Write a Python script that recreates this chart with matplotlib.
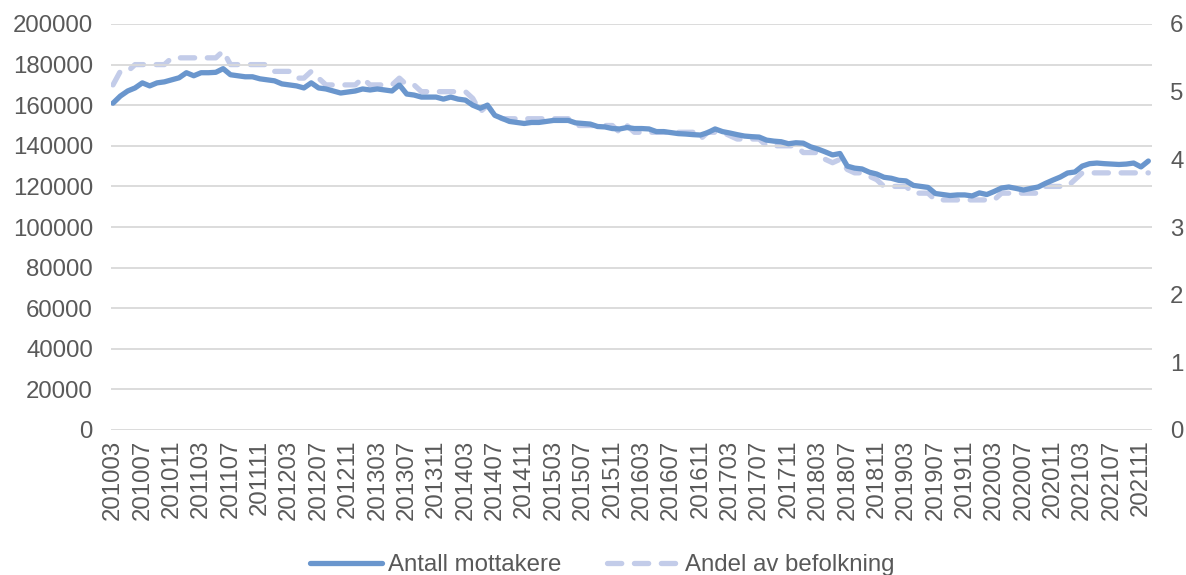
#!/usr/bin/env python3
# Antall mottakere og andel av befolkningen, månedlig 201003-202112
import numpy as np
import matplotlib
matplotlib.use('Agg')
import matplotlib.pyplot as plt

plt.rcParams['font.family'] = ['Liberation Sans', 'DejaVu Sans']

# monthly periods, 201003 .. 202112
months = [f"{y}{m:02d}" for y in range(2010, 2022) for m in range(1, 13)]
months = months[months.index("201003"):months.index("202112") + 1]

# Antall mottakere (left axis)
antall = [
    161000, 164500, 167000, 168500, 171000, 169500, 171000, 171500, 172500, 173500,
    176000, 174500, 176000, 176000, 176200, 178000, 175000, 174500, 174000, 174000,
    173000, 172500, 172000, 170500, 170000, 169500, 168500, 171000, 168500, 168000,
    167000, 166000, 166500, 167000, 168000, 167500, 168000, 167500, 167000, 170000,
    165500, 165000, 164000, 164000, 164000, 163000, 164000, 163000, 162500, 160000,
    158500, 160000, 155000, 153500, 152000, 151500, 151000, 151500, 151500, 152000,
    152500, 152500, 152500, 151300, 151000, 150700, 149500, 149300, 148500, 148300,
    149000, 148500, 148500, 148300, 147000, 147000, 146500, 146000, 145800, 145500,
    145300, 146500, 148300, 147000, 146300, 145500, 144800, 144500, 144300, 142800,
    142300, 142000, 141000, 141500, 141300, 139500, 138400, 137000, 135500, 136200,
    130000, 129000, 128600, 127000, 126100, 124500, 124000, 123000, 122700, 120500,
    120000, 119500, 116500, 116000, 115500, 115800, 115800, 115300, 116800, 116000,
    117500, 119200, 119700, 119000, 118200, 119000, 119700, 121500, 123100, 124600,
    126600, 127100, 130000, 131200, 131500, 131200, 131000, 130800, 131000, 131500,
    129600, 132500,
]

# Andel av befolkning, prosent (right axis)
andel = [
    5.1, 5.3, 5.3, 5.4, 5.4, 5.4, 5.4, 5.4, 5.5, 5.5,
    5.5, 5.5, 5.5, 5.5, 5.5, 5.6, 5.4, 5.4, 5.4, 5.4,
    5.4, 5.4, 5.3, 5.3, 5.3, 5.2, 5.2, 5.3, 5.2, 5.1,
    5.1, 5.1, 5.1, 5.1, 5.2, 5.1, 5.1, 5.1, 5.1, 5.2,
    5.1, 5.1, 5.0, 5.0, 5.0, 5.0, 5.0, 5.0, 5.0, 4.9,
    4.7, 4.8, 4.65, 4.6, 4.6, 4.6, 4.6, 4.6, 4.6, 4.6,
    4.6, 4.6, 4.6, 4.5, 4.5, 4.5, 4.5, 4.5, 4.5, 4.4,
    4.5, 4.4, 4.4, 4.4, 4.4, 4.4, 4.4, 4.4, 4.4, 4.4,
    4.3, 4.4, 4.4, 4.4, 4.35, 4.3, 4.3, 4.3, 4.3, 4.2,
    4.2, 4.2, 4.2, 4.2, 4.1, 4.1, 4.1, 4.0, 3.95, 4.0,
    3.85, 3.8, 3.8, 3.75, 3.7, 3.6, 3.6, 3.6, 3.6, 3.5,
    3.5, 3.5, 3.4, 3.4, 3.4, 3.4, 3.4, 3.4, 3.4, 3.4,
    3.4, 3.5, 3.5, 3.5, 3.5, 3.5, 3.5, 3.6, 3.6, 3.6,
    3.6, 3.7, 3.8, 3.8, 3.8, 3.8, 3.8, 3.8, 3.8, 3.8,
    3.8, 3.8,
]

left_ticks = list(range(0, 200001, 20000))
right_ticks = [0, 1, 2, 3, 4, 5, 6]

blue = '#6A96CD'
lilac = '#C3CCE9'
grey_txt = '#595959'
fs = 17.3

x = np.arange(len(months))

fig = plt.figure(figsize=(11.86, 5.75), dpi=100)
ax = fig.add_axes([111 / 1186, 1 - 430 / 575, (1152 - 111) / 1186, (430 - 24) / 575])
ax2 = ax.twinx()

l1, = ax.plot(x, antall, color=blue, lw=3.8, solid_capstyle='round',
              solid_joinstyle='round', label='Antall mottakere', zorder=3)
l2, = ax2.plot(x, andel, color=lilac, lw=3.8, dashes=(2.7, 2.4),
               dash_capstyle='round', dash_joinstyle='round',
               label='Andel av befolkning', zorder=2)

ax.set_zorder(ax2.get_zorder() + 1)
ax.patch.set_visible(False)

ax.set_ylim(0, 200000)
ax.set_yticks(left_ticks)
ax2.set_ylim(0, 6)
ax2.set_yticks(right_ticks)
ax.set_xlim(-0.27, len(months) - 0.5)

ax.set_xticks(x[::4])
ax.set_xticklabels(months[::4], rotation=90)

ax.grid(axis='y', color='#D9D9D9', lw=1.3)
ax.set_axisbelow(True)
for a in (ax, ax2):
    for s in a.spines.values():
        s.set_visible(False)
ax.tick_params(axis='y', length=0, pad=13, labelsize=fs, labelcolor=grey_txt)
ax.tick_params(axis='x', length=0, pad=7, labelsize=fs, labelcolor=grey_txt)
ax2.tick_params(axis='y', length=0, pad=13, labelsize=fs, labelcolor=grey_txt)

fig.legend(handles=[l1, l2], loc='lower center', bbox_to_anchor=(0.508, -0.04),
           ncol=2, frameon=False, fontsize=fs, labelcolor=grey_txt,
           handlelength=3.0, handletextpad=0.25, columnspacing=1.9)

fig.savefig('out.png', dpi=100)
